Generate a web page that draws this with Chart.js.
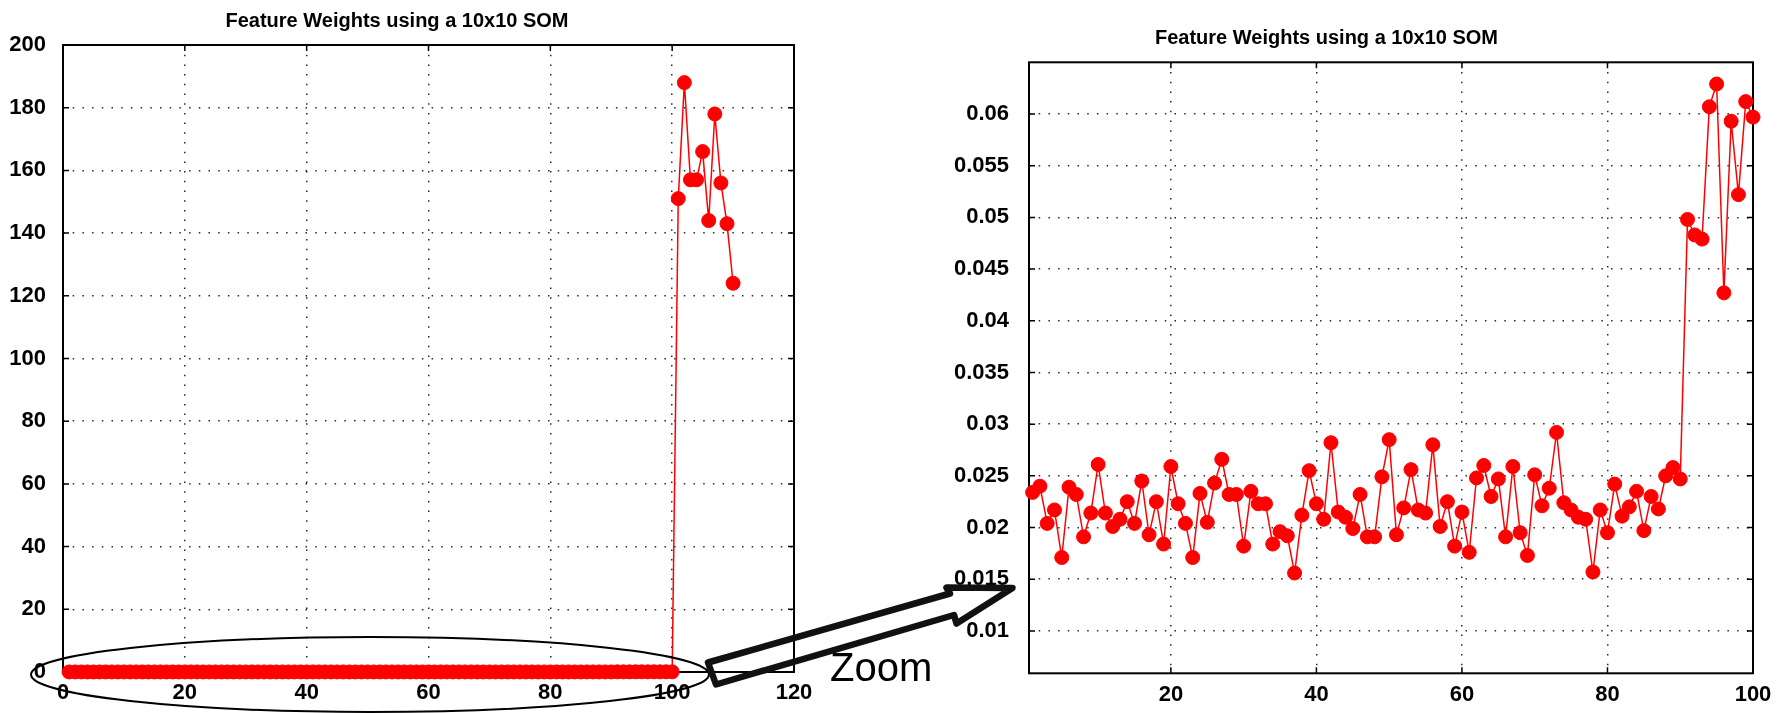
<!DOCTYPE html>
<html>
<head>
<meta charset="utf-8">
<script src="https://cdn.jsdelivr.net/npm/chart.js@4.4.1/dist/chart.umd.min.js"></script>
<style>
  html, body { margin: 0; padding: 0; background: #fff; }
  #wrap { position: relative; width: 1781px; height: 713px; overflow: hidden; background: #fff; }
  canvas { position: absolute; top: 0; }
  #left { left: 0; }
  #right { left: 900px; }
  svg { position: absolute; left: 0; top: 0; pointer-events: none; }
</style>
</head>
<body>
<div id="wrap">
  <canvas id="left" width="860" height="713"></canvas>
  <canvas id="right" width="881" height="713"></canvas>
  <svg width="1781" height="713" viewBox="0 0 1781 713">
    <ellipse cx="370" cy="674.5" rx="339" ry="37.5" fill="none" stroke="#000" stroke-width="2"/>
    <polygon points="708,662.5 950,593.5 946.5,587.5 1012.5,588 956.5,623.5 954,615 716,684.5"
             fill="none" stroke="#111" stroke-width="6.5" stroke-linejoin="round"/>
    <text x="830" y="681" font-family="'Liberation Sans', Arial, sans-serif" font-size="40" fill="#000">Zoom</text>
  </svg>
</div>
<script>
// ---- data ----
const chartTitle = 'Feature Weights using a 10x10 SOM';

const featureIndex = [
  1,2,3,4,5,6,7,8,9,10,11,12,13,14,15,16,17,18,19,20,
  21,22,23,24,25,26,27,28,29,30,31,32,33,34,35,36,37,38,39,40,
  41,42,43,44,45,46,47,48,49,50,51,52,53,54,55,56,57,58,59,60,
  61,62,63,64,65,66,67,68,69,70,71,72,73,74,75,76,77,78,79,80,
  81,82,83,84,85,86,87,88,89,90,91,92,93,94,95,96,97,98,99,100,
  101,102,103,104,105,106,107,108,109,110
];

const featureWeights = [
  0.0234,0.0240,0.0204,0.0217,0.0171,0.0239,0.0232,0.0191,0.0214,0.0261,
  0.0214,0.0201,0.0208,0.0225,0.0204,0.0245,0.0193,0.0225,0.0184,0.0259,
  0.0223,0.0204,0.0171,0.0233,0.0205,0.0243,0.0266,0.0232,0.0232,0.0182,
  0.0235,0.0223,0.0223,0.0184,0.0196,0.0192,0.0156,0.0212,0.0255,0.0223,
  0.0208,0.0282,0.0215,0.0210,0.0199,0.0232,0.0191,0.0191,0.0249,0.0285,
  0.0193,0.0219,0.0256,0.0217,0.0214,0.0280,0.0201,0.0225,0.0182,0.0215,
  0.0176,0.0248,0.0260,0.0230,0.0247,0.0191,0.0259,0.0195,0.0173,0.0251,
  0.0221,0.0238,0.0292,0.0224,0.0217,0.0210,0.0208,0.0157,0.0217,0.0195,
  0.0242,0.0211,0.0220,0.0235,0.0197,0.0230,0.0218,0.0250,0.0258,0.0247,
  0.0498,0.0483,0.0479,0.0607,0.0629,0.0427,0.0593,0.0522,0.0612,0.0597,
  151,188,157,157,166,144,178,156,143,124
];

const leftXTicks  = [0,20,40,60,80,100,120];
const leftYTicks  = [0,20,40,60,80,100,120,140,160,180,200];
const rightXTicks = [20,40,60,80,100];
const rightYTicks = [0.01,0.015,0.02,0.025,0.03,0.035,0.04,0.045,0.05,0.055,0.06];

// ---- rendering ----
Chart.defaults.font.family = "'Liberation Sans', Arial, sans-serif";
Chart.defaults.color = '#000';

const points = featureIndex.map((x, i) => ({ x: x, y: featureWeights[i] }));

const framePlugin = {
  id: 'frame',
  beforeDatasetsDraw(chart) {
    const { ctx, chartArea: a, scales } = chart;
    const xs = scales.x, ys = scales.y;
    ctx.save();
    ctx.strokeStyle = '#000';
    ctx.lineWidth = 1.5;
    ctx.beginPath();
    ys.ticks.forEach(t => {
      const py = ys.getPixelForValue(t.value);
      ctx.moveTo(a.left, py); ctx.lineTo(a.left + 6, py);
      ctx.moveTo(a.right, py); ctx.lineTo(a.right - 6, py);
    });
    xs.ticks.forEach(t => {
      const px = xs.getPixelForValue(t.value);
      ctx.moveTo(px, a.top); ctx.lineTo(px, a.top + 6);
      ctx.moveTo(px, a.bottom); ctx.lineTo(px, a.bottom - 6);
    });
    ctx.stroke();
    ctx.lineWidth = 2;
    ctx.strokeRect(a.left, a.top, a.right - a.left, a.bottom - a.top);
    ctx.restore();
  }
};

function axis(opts) {
  return {
    type: 'linear',
    min: opts.min, max: opts.max,
    afterBuildTicks: s => { s.ticks = opts.ticks.map(v => ({ value: v })); },
    afterFit: opts.fit,
    grid: { color: '#2a2a2a', lineWidth: 1.5, drawTicks: false, tickLength: 0 },
    border: { display: false, dash: [1.5, 8.2] },
    ticks: {
      autoSkip: false, maxRotation: 0, padding: opts.pad, color: '#000',
      font: { size: 22, weight: 'bold' },
      callback: v => String(v)
    }
  };
}

function makeChart(id, o) {
  return new Chart(document.getElementById(id), {
    type: 'line',
    data: {
      datasets: [{
        data: points,
        borderColor: '#ff0000',
        backgroundColor: '#ff0000',
        borderWidth: 1.5,
        pointRadius: 7,
        pointBorderWidth: 1,
        pointBackgroundColor: '#ff0000',
        pointBorderColor: '#ff0000',
        tension: 0,
        clip: o.clip
      }]
    },
    options: {
      responsive: false,
      animation: false,
      layout: { padding: { left: 0, right: o.padRight, top: 0, bottom: 0 } },
      plugins: {
        legend: { display: false },
        tooltip: { enabled: false },
        title: {
          display: true, text: chartTitle, color: '#000',
          font: { size: 20, weight: 'bold' },
          padding: { top: o.titleTop, bottom: o.titleBottom }
        }
      },
      scales: {
        x: axis({ min: o.xMin, max: o.xMax, ticks: o.xTicks, pad: 8,
                  fit: s => { s.height = o.xHeight; } }),
        y: axis({ min: o.yMin, max: o.yMax, ticks: o.yTicks, pad: o.yPad,
                  fit: s => { s.width = o.yWidth; } })
      }
    },
    plugins: [framePlugin]
  });
}

makeChart('left', {
  xMin: 0, xMax: 120, yMin: 0, yMax: 200,
  xTicks: leftXTicks, yTicks: leftYTicks,
  yWidth: 63, yPad: 17, xHeight: 41, padRight: 66,
  titleTop: 9.7, titleBottom: 11.3, clip: false
});

makeChart('right', {
  xMin: 0.5, xMax: 100, yMin: 0.0059, yMax: 0.065,
  xTicks: rightXTicks, yTicks: rightYTicks,
  yWidth: 129, yPad: 20, xHeight: 39.7, padRight: 28,
  titleTop: 26.3, titleBottom: 12, clip: { left: 10, right: 10, top: 0, bottom: 10 }
});
</script>
</body>
</html>
